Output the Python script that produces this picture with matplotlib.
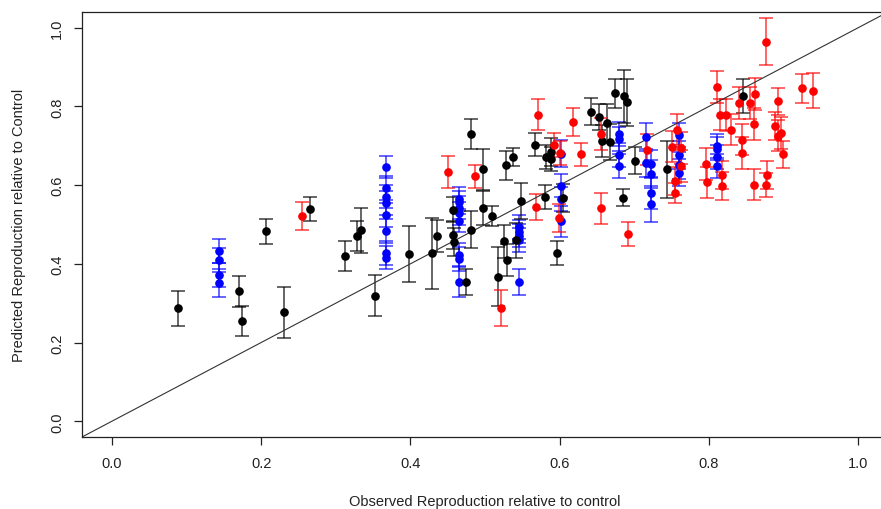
import matplotlib
matplotlib.use("Agg")
import matplotlib.pyplot as plt
import numpy as np

plt.rcParams['font.family'] = ['Liberation Sans', 'DejaVu Sans']

# black group: observed, predicted, error
black_x = [0.089, 0.171, 0.175, 0.207, 0.231, 0.266, 0.313, 0.328, 0.334, 0.352,
           0.398, 0.429, 0.436, 0.457, 0.457, 0.459, 0.474, 0.481, 0.481, 0.497,
           0.497, 0.509, 0.517, 0.526, 0.529, 0.528, 0.538, 0.541, 0.548, 0.567,
           0.580, 0.582, 0.588, 0.589, 0.596, 0.605, 0.642, 0.653, 0.663, 0.657,
           0.668, 0.674, 0.686, 0.690, 0.685, 0.701, 0.744, 0.846]
black_y = [0.287, 0.330, 0.255, 0.483, 0.277, 0.540, 0.420, 0.471, 0.485, 0.319,
           0.425, 0.427, 0.471, 0.538, 0.473, 0.455, 0.355, 0.730, 0.487, 0.640,
           0.543, 0.522, 0.367, 0.457, 0.410, 0.651, 0.671, 0.460, 0.560, 0.703,
           0.570, 0.671, 0.684, 0.667, 0.427, 0.567, 0.787, 0.773, 0.757, 0.712,
           0.710, 0.833, 0.826, 0.811, 0.568, 0.662, 0.640, 0.826]
black_err = [0.044, 0.040, 0.038, 0.032, 0.065, 0.030, 0.038, 0.039, 0.057, 0.052,
             0.070, 0.090, 0.040, 0.032, 0.035, 0.035, 0.033, 0.038, 0.047, 0.053,
             0.043, 0.025, 0.075, 0.042, 0.040, 0.037, 0.023, 0.045, 0.045, 0.030,
             0.030, 0.030, 0.035, 0.030, 0.031, 0.035, 0.035, 0.032, 0.050, 0.040,
             0.045, 0.038, 0.067, 0.060, 0.021, 0.034, 0.073, 0.043]

# blue group
blue_x = [0.143] * 4 + [0.368] * 8 + [0.465] * 8 + [0.545] * 5 + [0.602] * 4 \
         + [0.680] * 4 + [0.716] * 2 + [0.723] * 4 + [0.760] * 4 + [0.811] * 4
blue_y = [0.433, 0.410, 0.372, 0.352,
          0.645, 0.593, 0.571, 0.554, 0.524, 0.483, 0.427, 0.416,
          0.565, 0.556, 0.543, 0.528, 0.510, 0.423, 0.413, 0.355,
          0.493, 0.482, 0.472, 0.460, 0.355,
          0.680, 0.599, 0.565, 0.508,
          0.730, 0.718, 0.676, 0.648,
          0.722, 0.656,
          0.655, 0.628, 0.579, 0.552,
          0.728, 0.677, 0.650, 0.632,
          0.700, 0.693, 0.671, 0.649]
blue_err = [0.030, 0.030, 0.030, 0.035,
            0.028, 0.030, 0.030, 0.030, 0.030, 0.030, 0.030, 0.030,
            0.030, 0.030, 0.030, 0.030, 0.030, 0.030, 0.030, 0.040,
            0.030, 0.030, 0.030, 0.030, 0.033,
            0.035, 0.030, 0.030, 0.040,
            0.030, 0.030, 0.030, 0.030,
            0.035, 0.035,
            0.035, 0.035, 0.040, 0.045,
            0.030, 0.035, 0.035, 0.035,
            0.030, 0.030, 0.030, 0.030]

# red group
red_x = [0.255, 0.451, 0.486, 0.522, 0.568, 0.571, 0.592, 0.599, 0.600, 0.618,
         0.628, 0.656, 0.656, 0.691, 0.717, 0.751, 0.757, 0.762, 0.763, 0.755,
         0.755, 0.796, 0.797, 0.811, 0.815, 0.823, 0.818, 0.817, 0.829, 0.841,
         0.845, 0.845, 0.855, 0.862, 0.861, 0.861, 0.877, 0.878, 0.877, 0.889,
         0.892, 0.892, 0.896, 0.899, 0.925, 0.940]
red_y = [0.521, 0.634, 0.622, 0.288, 0.544, 0.779, 0.702, 0.516, 0.681, 0.760,
         0.678, 0.730, 0.541, 0.476, 0.690, 0.698, 0.741, 0.694, 0.649, 0.611,
         0.580, 0.654, 0.607, 0.849, 0.779, 0.778, 0.626, 0.598, 0.741, 0.809,
         0.716, 0.682, 0.809, 0.832, 0.756, 0.601, 0.965, 0.626, 0.601, 0.750,
         0.813, 0.726, 0.733, 0.678, 0.846, 0.840]
red_err = [0.035, 0.040, 0.030, 0.045, 0.033, 0.040, 0.030, 0.035, 0.030, 0.035,
           0.030, 0.040, 0.040, 0.030, 0.040, 0.040, 0.040, 0.040, 0.040, 0.035,
           0.025, 0.040, 0.040, 0.040, 0.040, 0.040, 0.035, 0.035, 0.040, 0.040,
           0.040, 0.040, 0.040, 0.040, 0.040, 0.040, 0.060, 0.035, 0.030, 0.035,
           0.035, 0.040, 0.040, 0.035, 0.036, 0.044]

W, H = 881, 510
fig = plt.figure(figsize=(W / 100, H / 100), dpi=100)
# plot box runs past the right edge of the image, as in the reference
ax = fig.add_axes([82 / W, 72 / H, 806 / W, 425 / H])

groups = [(blue_x, blue_y, blue_err, '#0000ff'),
          (black_x, black_y, black_err, '#000000'),
          (red_x, red_y, red_err, '#ff0000')]
for gx, gy, ge, col in groups:
    ax.errorbar(gx, gy, yerr=ge, fmt='none', ecolor=col, alpha=0.7,
                elinewidth=1.2, capsize=4.8, capthick=1.2)
    ax.plot(gx, gy, 'o', color=col, markersize=5.2, zorder=3)

ax.axline((0, 0), slope=1, color='#333333', lw=0.8)

ax.set_xlim(-0.04, 1.04)
ax.set_ylim(-0.04, 1.04)
ticks = [0.0, 0.2, 0.4, 0.6, 0.8, 1.0]
ax.set_xticks(ticks)
ax.set_yticks(ticks)
ax.set_xticklabels(["%.1f" % t for t in ticks])
ax.set_yticklabels(["%.1f" % t for t in ticks], rotation=90, va='center')
ax.tick_params(axis='both', direction='out', length=6, width=0.9,
               labelsize=10.5, colors='#222222')
ax.tick_params(axis='x', pad=8)
ax.tick_params(axis='y', pad=7)
for s in ax.spines.values():
    s.set_linewidth(0.9)
    s.set_color('#222222')

ax.set_xlabel("Observed Reproduction relative to control", fontsize=10.5, color='#222222')
ax.set_ylabel("Predicted Reproduction relative to Control", fontsize=10.5, color='#222222')
ax.xaxis.set_label_coords(0.5, -0.133)
ax.yaxis.set_label_coords(-0.07, 0.5)

fig.savefig('out.png', dpi=100)
